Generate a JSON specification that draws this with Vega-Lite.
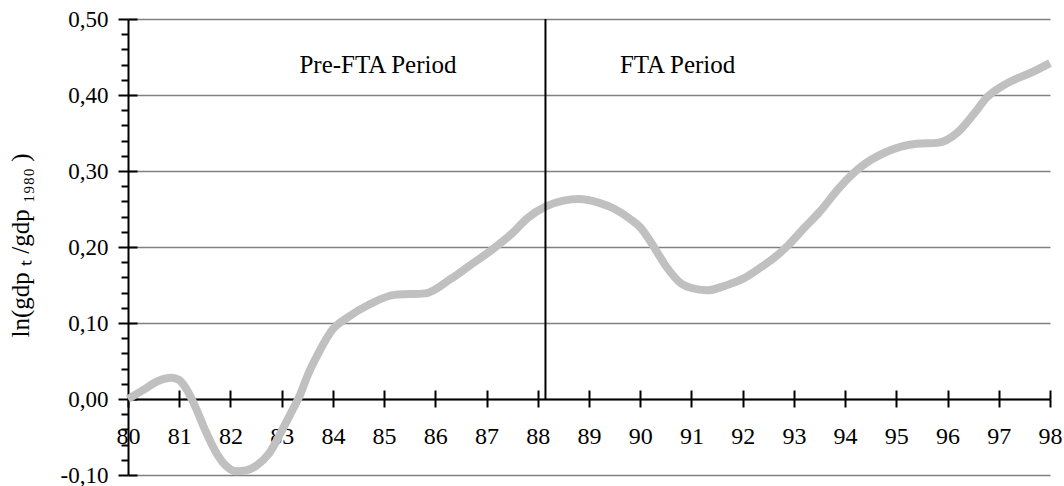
{
  "$schema": "https://vega.github.io/schema/vega-lite/v6.json",
  "width": 922,
  "height": 456,
  "autosize": "none",
  "padding": {"left": 128, "top": 19, "right": 14, "bottom": 11},
  "background": "white",
  "config": {"view": {"stroke": null}, "font": "Times New Roman, Liberation Serif, serif"},
  "datasets": {
    "series": [
      {"year": 80.0, "v": 0.000}, {"year": 80.3, "v": 0.012}, {"year": 80.6, "v": 0.024},
      {"year": 80.85, "v": 0.028}, {"year": 81.0, "v": 0.025}, {"year": 81.15, "v": 0.012},
      {"year": 81.3, "v": -0.008}, {"year": 81.5, "v": -0.040}, {"year": 81.7, "v": -0.068},
      {"year": 81.9, "v": -0.087}, {"year": 82.1, "v": -0.095}, {"year": 82.3, "v": -0.094},
      {"year": 82.5, "v": -0.088}, {"year": 82.75, "v": -0.072}, {"year": 83.0, "v": -0.042},
      {"year": 83.2, "v": -0.016}, {"year": 83.35, "v": 0.004}, {"year": 83.5, "v": 0.030},
      {"year": 83.7, "v": 0.058}, {"year": 84.0, "v": 0.092}, {"year": 84.3, "v": 0.108},
      {"year": 84.7, "v": 0.124}, {"year": 85.2, "v": 0.137}, {"year": 85.8, "v": 0.139},
      {"year": 86.3, "v": 0.158}, {"year": 86.7, "v": 0.177}, {"year": 87.1, "v": 0.196},
      {"year": 87.5, "v": 0.218}, {"year": 87.8, "v": 0.238}, {"year": 88.15, "v": 0.253},
      {"year": 88.5, "v": 0.261}, {"year": 88.8, "v": 0.263}, {"year": 89.2, "v": 0.258},
      {"year": 89.5, "v": 0.250}, {"year": 89.8, "v": 0.237}, {"year": 90.0, "v": 0.226},
      {"year": 90.25, "v": 0.202}, {"year": 90.5, "v": 0.175}, {"year": 90.8, "v": 0.152},
      {"year": 91.0, "v": 0.146}, {"year": 91.3, "v": 0.143}, {"year": 91.7, "v": 0.150},
      {"year": 92.0, "v": 0.158}, {"year": 92.35, "v": 0.173}, {"year": 92.6, "v": 0.185},
      {"year": 92.9, "v": 0.203}, {"year": 93.2, "v": 0.225}, {"year": 93.5, "v": 0.246},
      {"year": 93.9, "v": 0.279}, {"year": 94.3, "v": 0.305}, {"year": 94.8, "v": 0.325},
      {"year": 95.4, "v": 0.336}, {"year": 95.8, "v": 0.337}, {"year": 96.2, "v": 0.351},
      {"year": 96.5, "v": 0.374}, {"year": 96.77, "v": 0.397}, {"year": 97.15, "v": 0.415},
      {"year": 97.65, "v": 0.430}, {"year": 98.0, "v": 0.442}
    ],
    "divider": [{"year": 88.15, "lo": 0.0, "hi": 0.5}],
    "labels": [
      {"year": 84.88, "v": 0.44, "text": "Pre-FTA Period"},
      {"year": 90.73, "v": 0.44, "text": "FTA Period"}
    ]
  },
  "resolve": {"axis": {"x": "independent", "y": "independent"}},
  "layer": [
    {
      "data": {"name": "series"},
      "mark": {"type": "line", "color": "#c0c0c0", "strokeWidth": 8, "interpolate": "monotone", "strokeCap": "butt"},
      "encoding": {
        "x": {
          "field": "year", "type": "quantitative",
          "scale": {"domain": [80, 98], "nice": false, "zero": false},
          "axis": {
            "orient": "bottom", "offset": -76, "title": null,
            "values": [80,81,82,83,84,85,86,87,88,89,90,91,92,93,94,95,96,97,98],
            "grid": false, "domainColor": "black", "domainWidth": 2,
            "tickColor": "black", "tickWidth": 2, "tickSize": 8,
            "labelFont": "Times New Roman, Liberation Serif, serif", "labelFontSize": 24, "labelColor": "black",
            "labelPadding": 17, "labelFlush": false, "labelOverlap": false
          }
        },
        "y": {
          "field": "v", "type": "quantitative",
          "scale": {"domain": [-0.1, 0.5], "nice": false, "zero": false},
          "axis": {
            "orient": "left",
            "values": [-0.1, 0, 0.1, 0.2, 0.3, 0.4, 0.5],
            "grid": true, "gridColor": "#808080", "gridWidth": 1.5,
            "domainColor": "black", "domainWidth": 2,
            "tickColor": "black", "tickWidth": 2, "tickSize": 10,
            "labelFont": "Times New Roman, Liberation Serif, serif", "labelFontSize": 23, "labelColor": "black",
            "labelPadding": 10, "labelFlush": false, "labelOverlap": false, "labelBaseline": "middle",
            "labelExpr": "(datum.value < -0.001 ? '-' : '') + replace(format(abs(datum.value), '.2f'), '.', ',')",
            "title": "ln(gdp ₜ /gdp ₁₉₈₀ )",
            "titleFont": "Times New Roman, Liberation Serif, serif", "titleFontSize": 25, "titleFontWeight": "normal",
            "titleColor": "black", "titleX": -108, "titleY": 226,
            "titleAlign": "center", "titleBaseline": "middle", "titleAngle": -90
          }
        }
      }
    },
    {
      "data": {"name": "divider"},
      "mark": {"type": "rule", "color": "black", "strokeWidth": 2},
      "encoding": {
        "x": {
          "field": "year", "type": "quantitative",
          "axis": {
            "orient": "top", "offset": -380, "title": null,
            "values": [81,82,83,84,85,86,87,88,89,90,91,92,93,94,95,96,97,98],
            "grid": false, "domain": false, "labels": false,
            "tickColor": "black", "tickWidth": 2, "tickSize": 9
          }
        },
        "y": {
          "field": "lo", "type": "quantitative",
          "axis": {
            "orient": "right", "offset": -922, "title": null,
            "values": [-0.1, 0, 0.1, 0.2, 0.3, 0.4, 0.5],
            "grid": false, "domain": false, "labels": false,
            "tickColor": "black", "tickWidth": 2, "tickSize": 9
          }
        },
        "y2": {"field": "hi"}
      }
    },
    {
      "data": {"name": "labels"},
      "mark": {"type": "text", "font": "Times New Roman, Liberation Serif, serif", "fontSize": 25, "color": "black", "align": "center", "baseline": "middle"},
      "encoding": {
        "x": {"field": "year", "type": "quantitative", "axis": null},
        "y": {
          "field": "v", "type": "quantitative",
          "axis": {
            "orient": "left", "title": null,
            "values": [-0.08,-0.06,-0.04,-0.02,0.02,0.04,0.06,0.08,0.12,0.14,0.16,0.18,0.22,0.24,0.26,0.28,0.32,0.34,0.36,0.38,0.42,0.44,0.46,0.48],
            "grid": false, "domain": false, "labels": false,
            "tickColor": "black", "tickWidth": 2, "tickSize": 7
          }
        },
        "text": {"field": "text"}
      }
    }
  ]
}
